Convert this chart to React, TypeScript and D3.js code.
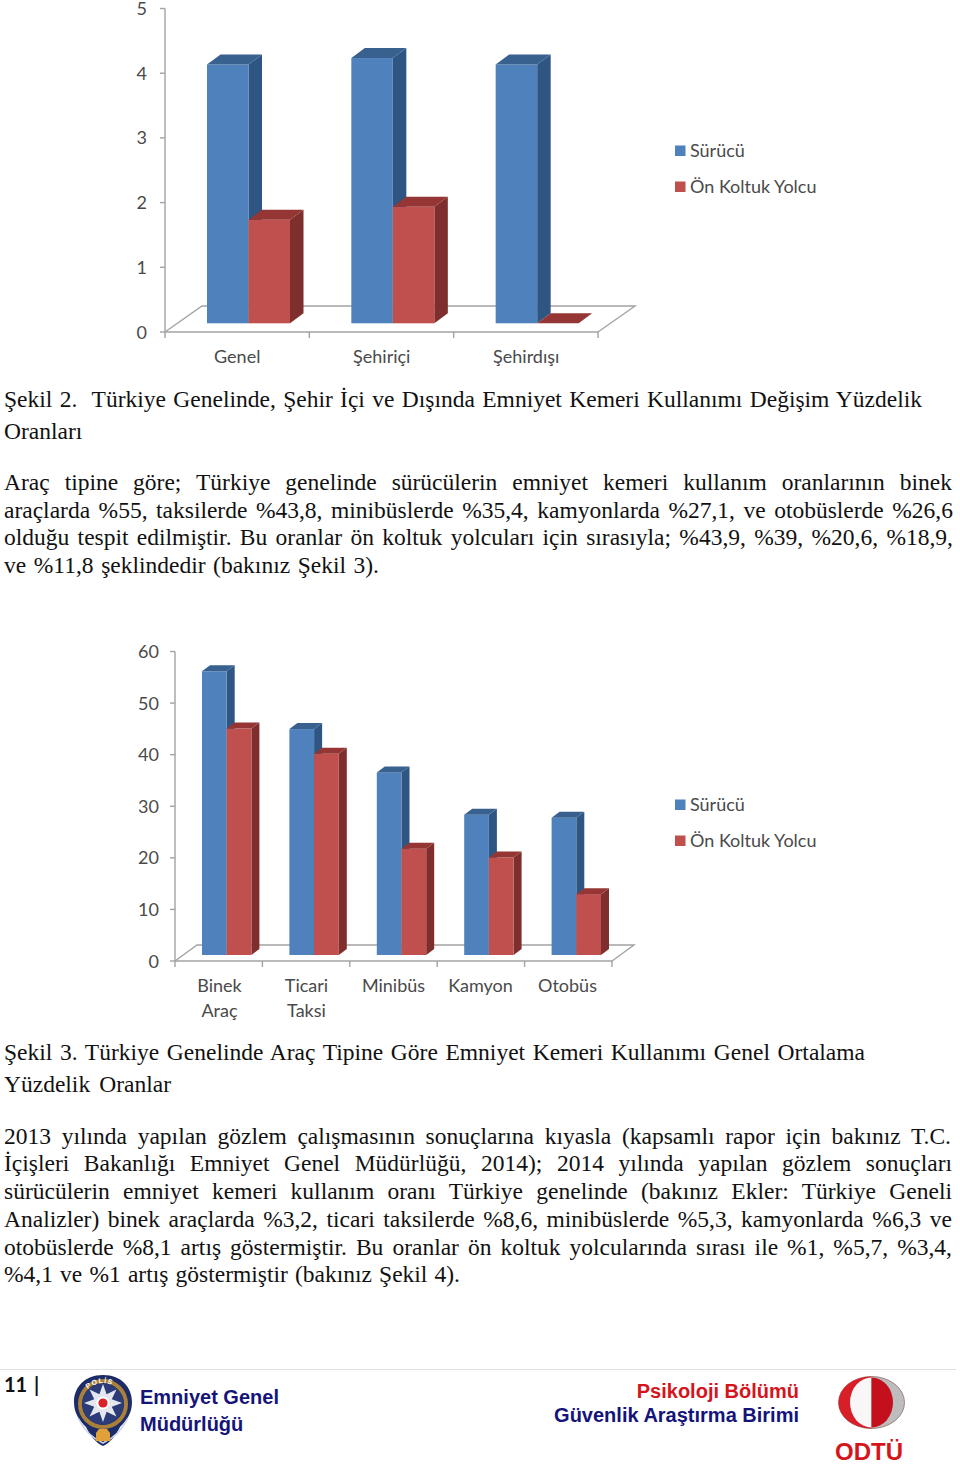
import React, { useLayoutEffect, useRef } from "react";
import * as d3 from "d3";

const seriesNames = ["Sürücü", "Ön Koltuk Yolcu"];
const chart1Categories = [["Genel"], ["Şehiriçi"], ["Şehirdışı"]];
const chart1Driver = [4.0, 4.1, 4.0];
const chart1Passenger = [1.6, 1.8, 0];
const chart1Ticks = [0, 1, 2, 3, 4, 5];
const chart2Categories = [["Binek", "Araç"], ["Ticari", "Taksi"], ["Minibüs"], ["Kamyon"], ["Otobüs"]];
const chart2Driver = [55, 43.8, 35.4, 27.2, 26.6];
const chart2Passenger = [43.9, 39, 20.6, 18.9, 11.8];
const chart2Ticks = [0, 10, 20, 30, 40, 50, 60];

const bodyLines: [string, number, number, number][] = [
  ["Şekil 2.  Türkiye Genelinde, Şehir İçi ve Dışında Emniyet Kemeri Kullanımı Değişim Yüzdelik", 4, 922, 407],
  ["Oranları", 4, 82, 439],
  ["Araç tipine göre; Türkiye genelinde sürücülerin emniyet kemeri kullanım oranlarının binek", 4, 952, 490],
  ["araçlarda %55, taksilerde %43,8, minibüslerde %35,4, kamyonlarda %27,1, ve otobüslerde %26,6", 4, 953, 518],
  ["olduğu tespit edilmiştir. Bu oranlar ön koltuk yolcuları için sırasıyla; %43,9, %39, %20,6, %18,9,", 4, 953, 545],
  ["ve %11,8 şeklindedir (bakınız Şekil 3).", 4, 379, 573],
  ["Şekil 3. Türkiye Genelinde Araç Tipine Göre Emniyet Kemeri Kullanımı Genel Ortalama", 4, 865, 1060],
  ["Yüzdelik Oranlar", 4, 171, 1092],
  ["2013 yılında yapılan gözlem çalışmasının sonuçlarına kıyasla (kapsamlı rapor için bakınız T.C.", 4, 951, 1144],
  ["İçişleri Bakanlığı Emniyet Genel Müdürlüğü, 2014); 2014 yılında yapılan gözlem sonuçları", 4, 952, 1171],
  ["sürücülerin emniyet kemeri kullanım oranı Türkiye genelinde (bakınız Ekler: Türkiye Geneli", 4, 952, 1199],
  ["Analizler) binek araçlarda %3,2, ticari taksilerde %8,6, minibüslerde %5,3, kamyonlarda %6,3 ve", 4, 952, 1227],
  ["otobüslerde %8,1 artış göstermiştir. Bu oranlar ön koltuk yolcularında sırası ile %1, %5,7, %3,4,", 4, 952, 1255],
  ["%4,1 ve %1 artış göstermiştir (bakınız Şekil 4).", 4, 460, 1282],
];

const BLUE = { front: "#4f81bd", side: "#2f5582", top: "#38618f" };
const RED = { front: "#c0504d", side: "#7e2f2d", top: "#963634" };
const AXIS = "#a3a3a3";
const LABEL = "#4a4a4a";
const CHART_FONT = "Lato, Carlito, sans-serif";

type ChartProps = {
  cats: string[][]; a: number[]; b: number[]; ticks: number[];
  axisX: number; floorRight: number; axisBase: number; axisTop: number; baseY: number;
  floorDx: number; floorDy: number; barOffset: number; barW: number; depthX: number; depthY: number;
  labelRange: [number, number]; labelY: number; tickLabelX: number; legendY: number;
};

function Chart(p: ChartProps) {
  const names = p.cats.map((c) => c.join(" "));
  const band = d3.scaleBand<string>().domain(names).range([p.axisX, p.floorRight]);
  const max = p.ticks[p.ticks.length - 1];
  const unit = (p.axisBase - p.axisTop) / max;
  const yBar = d3.scaleLinear().domain([0, max]).range([p.baseY, p.baseY - unit * max]);
  const yAxis = d3.scaleLinear().domain([0, max]).range([p.axisBase, p.axisTop]);
  const labelBand = d3.scaleBand<string>().domain(names).range(p.labelRange);
  const w = p.barW;
  const bar = (x: number, v: number, c: any, k: string) => {
    const y = yBar(v);
    const top = d3.line()([[x, y], [x + p.depthX, y + p.depthY], [x + w + p.depthX, y + p.depthY], [x + w, y]]) + "Z";
    return (
      <g key={k}>
        {v > 0 && <path d={`M${x + w},${y}L${x + w + p.depthX},${y + p.depthY}V${p.baseY + p.depthY}L${x + w},${p.baseY}Z`} fill={c.side} />}
        {v > 0 && <rect x={x} y={y} width={w} height={p.baseY - y} fill={c.front} />}
        <path d={top} fill={c.top} />
      </g>
    );
  };
  return (
    <g>
      <g fill="none" stroke={AXIS} strokeWidth={1.4}>
        <path d={`M${p.axisX},${p.axisBase}L${p.axisX + p.floorDx},${p.axisBase + p.floorDy}H${p.floorRight + p.floorDx}L${p.floorRight},${p.axisBase}`} />
        <path d={`M${p.axisX},${p.axisTop}V${p.axisBase + 6}`} />
        <path d={`M${p.axisX},${p.axisBase}H${p.floorRight}`} />
        {p.ticks.map((t) => <path key={t} d={`M${p.axisX - 5},${yAxis(t)}H${p.axisX}`} />)}
        {names.map((n) => <path key={n} d={`M${band(n)! + band.step()},${p.axisBase}v6`} />)}
      </g>
      {names.map((n, i) => (
        <g key={n}>
          {bar(band(n)! + p.barOffset, p.a[i], BLUE, n + "a")}
          {bar(band(n)! + p.barOffset + w, p.b[i], RED, n + "b")}
        </g>
      ))}
      <g fontFamily={CHART_FONT} fontSize={18} fill={LABEL}>
        {p.ticks.map((t) => (
          <text key={t} x={p.tickLabelX} y={yAxis(t) + 6.5} textAnchor="end">{t}</text>
        ))}
        {p.cats.map((c, i) => c.map((line, j) => (
          <text key={line} x={labelBand(names[i])! + labelBand.bandwidth() / 2} y={p.labelY + j * 24.5} textAnchor="middle">{line}</text>
        )))}
        {seriesNames.map((s, i) => (
          <g key={s}>
            <rect x={675} y={p.legendY + i * 36} width={10.5} height={10.5} fill={i ? RED.front : BLUE.front} />
            <text x={690} y={p.legendY + 11 + i * 36}>{s}</text>
          </g>
        ))}
      </g>
    </g>
  );
}

function Badge() {
  const star = d3.range(16).map((i) => {
    const a = (i * Math.PI) / 8 - Math.PI / 2;
    const r = i % 2 ? 9.5 : 19;
    return [103 + r * Math.cos(a), 1403 + r * Math.sin(a)] as [number, number];
  });
  return (
    <g>
      <path d="M103,1375C84,1375 74,1388 74,1402C74,1414 80,1421 86,1427C90,1435 96,1443 103,1446C110,1443 116,1435 120,1427C126,1421 132,1414 132,1402C132,1388 122,1375 103,1375Z" fill="#1c2c68" />
      <circle cx={103} cy={1404} r={23} fill="none" stroke="#a9803a" strokeWidth={4} />
      <circle cx={103} cy={1404} r={20.5} fill="#2b3c78" />
      <path d={d3.line()(star) + "Z"} fill="#e4e6ee" />
      <circle cx={103} cy={1403} r={6.5} fill="#fff" />
      <circle cx={103} cy={1403} r={4.6} fill="#d8232a" />
      <path d="M78,1418C84,1430 92,1438 103,1443C114,1438 122,1430 128,1418" fill="none" stroke="#cfd3e2" strokeWidth={1.6} />
      <path d="M96,1441V1433L99,1429H107L110,1433V1441Z" fill="#e2a03a" />
      <path id="polis-arc" d="M84,1394A22,22 0 0 1 122,1394" fill="none" />
      <text fontFamily="Liberation Sans" fontWeight="bold" fontSize={7} fill="#fff" letterSpacing={1}>
        <textPath href="#polis-arc" startOffset="14%">POLİS</textPath>
      </text>
    </g>
  );
}

function OdtuLogo() {
  const cx = 871.5, cy = 1402.5;
  return (
    <g>
      <ellipse cx={cx} cy={cy} rx={33} ry={26} fill="#bdbdbd" stroke="#8b6f6f" strokeWidth={0.8} />
      <path d={`M${cx},${cy - 26}A33,26 0 0 0 ${cx},${cy + 26}Z`} fill="#d81e26" />
      <path d={`M${cx},${cy - 25}A21.5,25 0 0 0 ${cx},${cy + 25}Z`} fill="#f8f6f6" />
      <path d={`M${cx},${cy - 25}A21.5,25 0 0 1 ${cx},${cy + 25}Z`} fill="#c4101c" />
    </g>
  );
}

export default function App() {
  const ref = useRef<SVGSVGElement>(null);
  useLayoutEffect(() => {
    d3.select(ref.current).selectAll<SVGTextElement, unknown>("text.body").each(function () {
      const el = d3.select(this);
      const target = +el.attr("data-width");
      const gaps = el.text().split(" ").length - 1;
      if (!gaps) return;
      const cur = this.getComputedTextLength();
      el.style("word-spacing", `${(target - cur) / gaps}px`);
    });
  }, []);
  return (
    <svg ref={ref} width={960} height={1464} viewBox="0 0 960 1464"
      style={{ position: "absolute", left: 0, top: 0, background: "#fff" }}>
      <Chart cats={chart1Categories} a={chart1Driver} b={chart1Passenger} ticks={chart1Ticks}
        axisX={165} floorRight={598} axisBase={332} axisTop={8.5} baseY={323.3}
        floorDx={37} floorDy={-26} barOffset={42} barW={41.5} depthX={13.5} depthY={-10}
        labelRange={[165, 598.5]} labelY={363} tickLabelX={147} legendY={145.5} />
      <Chart cats={chart2Categories} a={chart2Driver} b={chart2Passenger} ticks={chart2Ticks}
        axisX={175} floorRight={612} axisBase={961} axisTop={651.5} baseY={955}
        floorDx={22} floorDy={-16} barOffset={27} barW={24.7} depthX={8} depthY={-6}
        labelRange={[176, 611]} labelY={992} tickLabelX={159} legendY={799.5} />
      <g fontFamily="'Liberation Serif', serif" fontSize={23.5} fill="#111">
        {bodyLines.map(([t, x0, x1, y]) => (
          <text key={y} className="body" x={x0} y={y} data-width={x1 - x0} style={{ whiteSpace: "pre" }}>{t}</text>
        ))}
      </g>
      <path d="M0,1369.5H956" stroke="#e2e2e2" strokeWidth={1} />
      <text x={4} y={1392} fontFamily="Lato, sans-serif" fontWeight="bold" fontSize={20} wordSpacing={2} fill="#111">11 |</text>
      <Badge />
      <g fontFamily="'Liberation Sans', sans-serif" fontWeight="bold">
        <text x={140} y={1404} fontSize={20} fill="#14147a">Emniyet Genel</text>
        <text x={140} y={1431} fontSize={20} fill="#14147a">Müdürlüğü</text>
        <text x={799} y={1398} fontSize={20} fill="#d5141c" textAnchor="end">Psikoloji Bölümü</text>
        <text x={799} y={1422} fontSize={20} fill="#14147a" textAnchor="end">Güvenlik Araştırma Birimi</text>
        <text x={835} y={1460} fontSize={24} fill="#d5141c">ODTÜ</text>
      </g>
      <OdtuLogo />
    </svg>
  );
}
